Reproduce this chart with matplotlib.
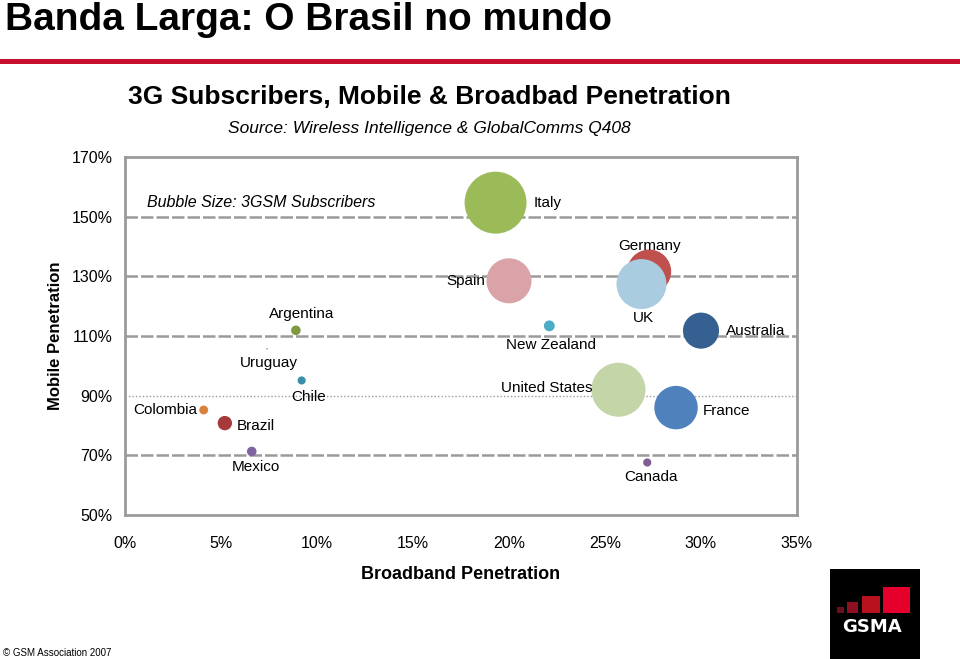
import matplotlib
matplotlib.use("Agg")
import matplotlib.pyplot as plt
from matplotlib import font_manager
from matplotlib.patches import Rectangle
from matplotlib.lines import Line2D
from matplotlib.ticker import FuncFormatter

# data
countries = ["Colombia", "Brazil", "Mexico", "Argentina", "Uruguay", "Chile",
             "Italy", "Spain", "Germany", "UK", "New Zealand", "Australia",
             "United States", "France", "Canada"]
broadband = [4.1, 5.2, 6.6, 8.9, 7.4, 9.2,
             19.3, 20.0, 27.3, 26.9, 22.1, 30.0,
             25.7, 28.7, 27.2]
mobile = [85.2, 80.8, 71.3, 111.9, 105.7, 95.1,
          154.7, 128.5, 131.6, 127.4, 113.4, 111.8,
          92.0, 86.0, 67.6]
subs_3g = [0.5, 1.5, 0.6, 0.6, 0.02, 0.4,
           30.0, 15.8, 15.1, 19.5, 0.8, 10.1,
           22.8, 14.7, 0.4]
colors = ["#D9823B", "#A63A3A", "#8064A2", "#7F9A3E", "#9A9A9A", "#3A8FA8",
          "#9BBB59", "#D9A3A7", "#C0504D", "#A9CCE0", "#4BACC6", "#376092",
          "#C4D6A8", "#4F81BD", "#7D5F96"]
# label offsets in pixels from the bubble centre, and alignment
label_pos = {
    "Colombia": (-6, 0, "right"), "Brazil": (12, -3, "left"),
    "Mexico": (4, -16, "center"), "Argentina": (6, 16, "center"),
    "Uruguay": (2, -14, "center"), "Chile": (7, -17, "center"),
    "Italy": (38, 0, "left"), "Spain": (-24, 0, "right"),
    "Germany": (0, 26, "center"), "UK": (2, -34, "center"),
    "New Zealand": (2, -19, "center"), "Australia": (25, 0, "left"),
    "United States": (-26, 2, "right"), "France": (27, -3, "left"),
    "Canada": (4, -15, "center"),
}
yticks = [50, 70, 90, 110, 130, 150, 170]
xticks = [0, 5, 10, 15, 20, 25, 30, 35]

names = {f.name for f in font_manager.fontManager.ttflist}
narrow = "Liberation Sans Narrow" if "Liberation Sans Narrow" in names else "Liberation Sans"
plt.rcParams["font.family"] = [narrow, "DejaVu Sans"]

W, H = 960, 659
fig = plt.figure(figsize=(W / 100, H / 100), dpi=100)
ax = fig.add_axes([125 / W, 1 - 515 / H, 672 / W, 358 / H])

grid_c = "#9A9A9A"
for yv in yticks[1:-1]:
    if yv == 90:
        ax.axhline(yv, color=grid_c, lw=1, ls=(0, (1, 1.5)), zorder=0)
    else:
        ax.axhline(yv, color=grid_c, lw=1.8, ls=(0, (5, 1.2)), zorder=0)

order = sorted(range(len(countries)), key=lambda i: countries[i] == "UK")
for i in order:
    ax.scatter(broadband[i], mobile[i], s=subs_3g[i] * 66 + 8 * (subs_3g[i] > 0.1),
               color=colors[i], edgecolors="none", zorder=3)
    dx, dy, ha = label_pos[countries[i]]
    ax.annotate(countries[i], (broadband[i], mobile[i]), xytext=(dx, dy),
                textcoords="offset pixels", ha=ha, va="center", fontsize=11,
                zorder=4)

ax.set_xlim(0, 35)
ax.set_ylim(50, 170)
ax.set_xticks(xticks)
ax.set_yticks(yticks)
ax.xaxis.set_major_formatter(FuncFormatter(lambda v, p: f"{v:.0f}%"))
ax.yaxis.set_major_formatter(FuncFormatter(lambda v, p: f"{v:.0f}%"))
ax.tick_params(length=0, labelsize=11.5)
ax.tick_params(axis="x", pad=15)
ax.tick_params(axis="y", pad=9)
for s in ax.spines.values():
    s.set_color(grid_c)
    s.set_linewidth(2)

ax.text(0.032, 154.6, "Bubble Size: 3GSM Subscribers", transform=ax.get_yaxis_transform(),
        ha="left", va="center", fontsize=11.5, style="italic")

ax.set_xlabel("Broadband Penetration", fontsize=13, fontweight="bold", labelpad=11)
ax.set_ylabel("Mobile Penetration", fontsize=12, fontweight="bold", labelpad=6)

# titles
fig.text(5 / W, 1 - 30 / H, "Banda Larga: O Brasil no mundo", fontsize=28,
         fontweight="bold", va="baseline", ha="left", family="Liberation Sans")
fig.add_artist(Line2D([0, 1], [1 - 61 / H] * 2, color="#C8102E", lw=3.6,
                      transform=fig.transFigure))
fig.text(429 / W, 1 - 97 / H, "3G Subscribers, Mobile & Broadbad Penetration",
         fontsize=19, fontweight="bold", ha="center", va="center")
fig.text(429 / W, 1 - 129 / H, "Source: Wireless Intelligence & GlobalComms Q408",
         fontsize=12.5, style="italic", ha="center", va="center")

fig.text(3 / W, 1 - 653 / H, "© GSM Association 2007", fontsize=7, va="center",
         family="Liberation Sans")

# GSMA logo
def px_rect(x0, y0, x1, y1, c):
    fig.add_artist(Rectangle((x0 / W, 1 - y1 / H), (x1 - x0) / W, (y1 - y0) / H,
                             transform=fig.transFigure, color=c, lw=0))

px_rect(830, 569, 920, 659, "black")
px_rect(837, 607, 844, 613, "#6B0F1A")
px_rect(847, 602, 858, 613, "#8E1020")
px_rect(862, 596, 880, 613, "#B8121E")
px_rect(883, 587, 910, 613, "#E4002B")
fig.text(872 / W, 1 - 627 / H, "GSMA", color="white", fontsize=13,
         fontweight="bold", ha="center", va="center", family="DejaVu Sans")

fig.savefig("out.png", dpi=100)
